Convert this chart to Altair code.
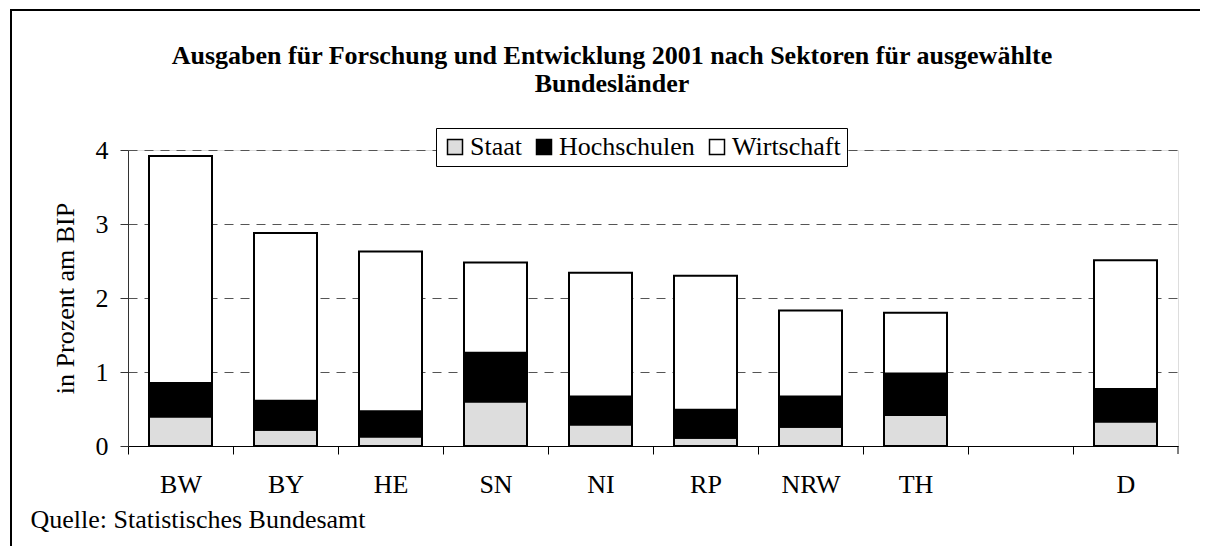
import altair as alt
import pandas as pd

laender = ["BW", "BY", "HE", "SN", "NI", "RP", "NRW", "TH", "D"]
x_domain = ["BW", "BY", "HE", "SN", "NI", "RP", "NRW", "TH", " ", "D"]
sektoren = ["Staat", "Hochschulen", "Wirtschaft"]
staat = [0.40, 0.22, 0.13, 0.60, 0.29, 0.11, 0.26, 0.42, 0.33]
hochschulen = [0.45, 0.39, 0.34, 0.66, 0.38, 0.38, 0.41, 0.56, 0.44]
wirtschaft = [3.07, 2.27, 2.16, 1.22, 1.67, 1.81, 1.16, 0.82, 1.74]
farben = ["#dddddd", "#000000", "#ffffff"]
y_ticks = [0, 1, 2, 3, 4]

rows = []
for i, land in enumerate(laender):
    for k, (sek, vals) in enumerate(zip(sektoren, [staat, hochschulen, wirtschaft])):
        rows.append({"Land": land, "Sektor": sek, "Wert": vals[i], "ord": k})
df = pd.DataFrame(rows)

W, H = 1050, 296
PAD_R, PAD_B = 22, 100
STEP = W / len(x_domain)
SERIF = "Liberation Serif"
FS = 26

bars = alt.Chart(df).mark_bar(stroke="black", strokeWidth=2).encode(
    x=alt.X("Land:N", scale=alt.Scale(domain=x_domain, paddingInner=0.4, paddingOuter=0.2),
            axis=alt.Axis(title="Quelle: Statistisches Bundesamt", labelAngle=0,
                          labelFont=SERIF, labelFontSize=FS, labelColor="black",
                          labelPadding=17, tickSize=8, tickColor="black",
                          tickOffset=-STEP / 2, labelOffset=STEP / 2,
                          domainColor="black", grid=False,
                          titleFont=SERIF, titleFontSize=FS, titleFontWeight="normal",
                          titleColor="black", titleAnchor="start", titleAlign="left",
                          titleBaseline="alphabetic", titleX=-98, titleY=81)),
    y=alt.Y("Wert:Q", stack="zero", scale=alt.Scale(domain=[0, 4], nice=False),
            axis=alt.Axis(title="in Prozent am BIP", values=y_ticks, format="d",
                          labelFont=SERIF, labelFontSize=FS, labelColor="black",
                          labelPadding=12, tickSize=8, tickColor="#333",
                          domainColor="#333", grid=True, gridColor="#555",
                          gridDash=[9, 7], gridWidth=1,
                          titleFont=SERIF, titleFontSize=FS, titleFontWeight="normal",
                          titleColor="black", titleAngle=270, titleX=-63, titleY=H / 2,
                          titleAlign="center", titleBaseline="middle")),
    fill=alt.Fill("Sektor:N", scale=alt.Scale(domain=sektoren, range=farben),
                  legend=alt.Legend(title=None, orient="none", direction="horizontal",
                                    legendX=308, legendY=-22, columns=3,
                                    strokeColor="black", fillColor="white", padding=6,
                                    labelFont=SERIF, labelFontSize=FS, labelColor="black",
                                    symbolType="square", symbolSize=225,
                                    symbolStrokeColor="black", symbolStrokeWidth=1.5,
                                    labelOffset=2, columnPadding=9)),
    order=alt.Order("ord:Q"),
)

frame = alt.Data(values=[{}])
border_top = alt.Chart(frame).mark_rule(color="black", strokeWidth=2).encode(
    x=alt.value(-118), x2=alt.value(W + PAD_R), y=alt.value(-140))
border_left = alt.Chart(frame).mark_rule(color="black", strokeWidth=2).encode(
    x=alt.value(-117), y=alt.value(-141), y2=alt.value(H + PAD_B))

end_tick = alt.Chart(frame).mark_rule(color="black").encode(
    x=alt.value(W), y=alt.value(H), y2=alt.value(H + 8))

chart = alt.layer(border_top, border_left, bars, end_tick).properties(
    width=W, height=H,
    autosize=alt.AutoSizeParams(type="none"),
    padding={"left": 120, "top": 142, "right": PAD_R, "bottom": PAD_B},
    title=alt.TitleParams(
        text=["Ausgaben für Forschung und Entwicklung 2001 nach Sektoren für ausgewählte",
              "Bundesländer"],
        font=SERIF, fontSize=26, fontWeight="bold", color="black",
        anchor="middle", frame="group", dx=-41, offset=-89, lineHeight=28),
).configure_view(stroke=None).configure(background="white")

chart.save("out.html", embed_options={"renderer": "svg", "actions": False})
